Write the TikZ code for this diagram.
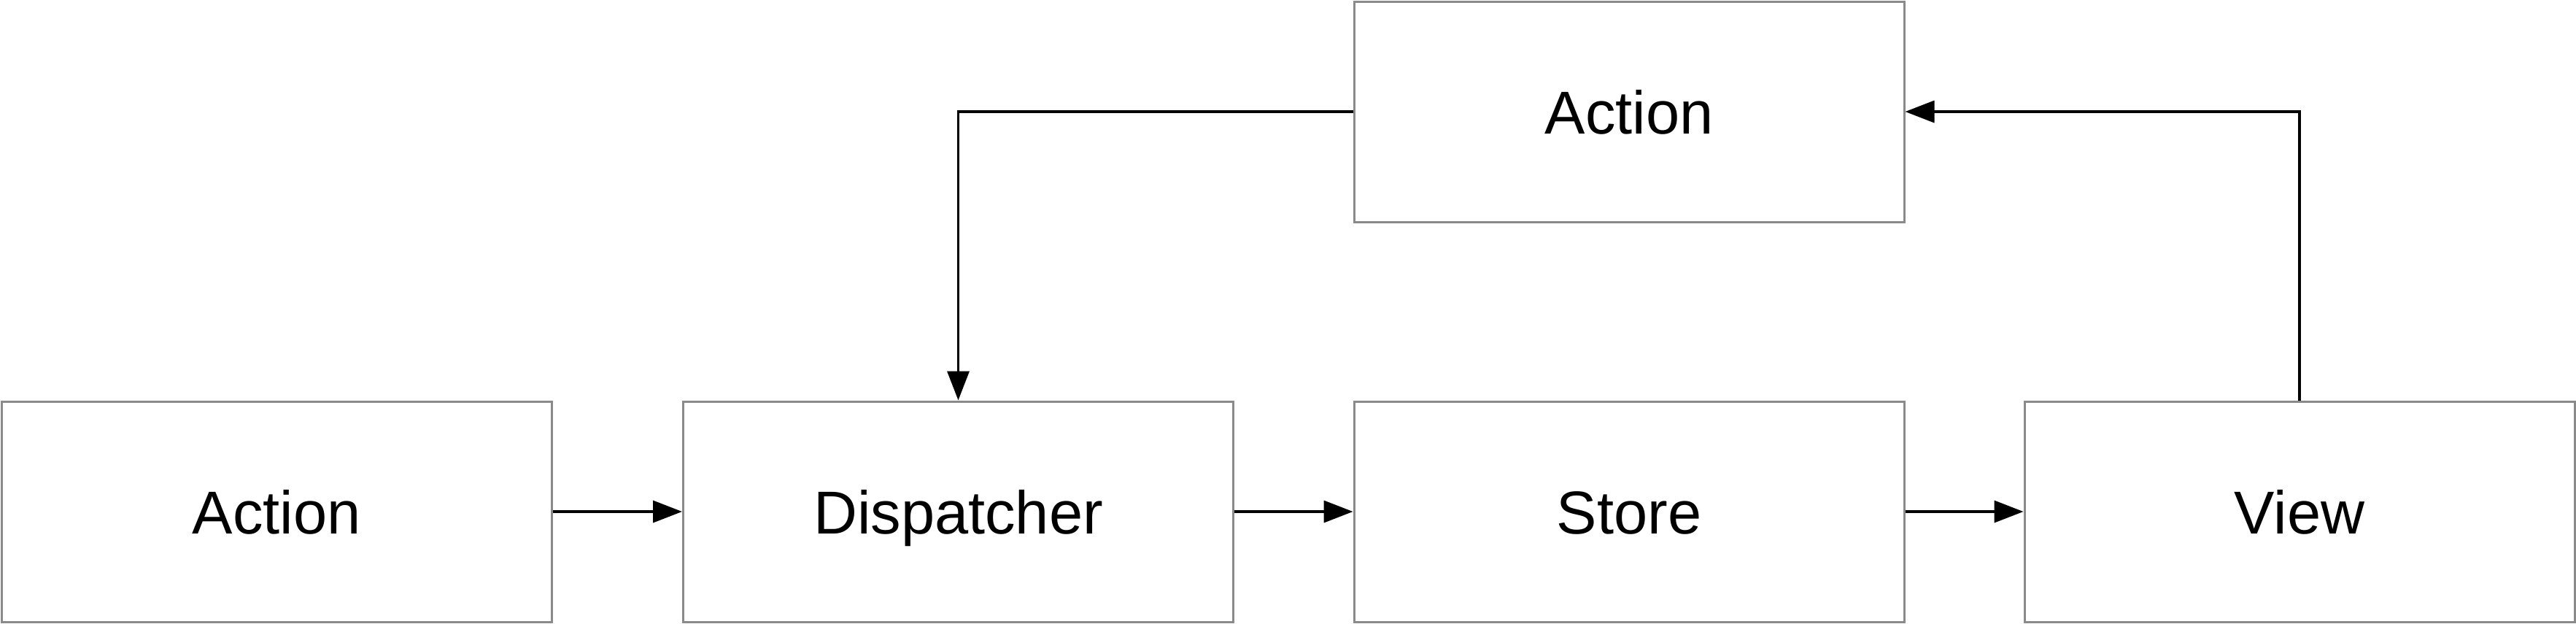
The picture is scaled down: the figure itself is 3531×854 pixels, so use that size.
\documentclass[tikz,border=0pt]{standalone}
\usepackage{fontspec}
\setmainfont{Liberation Sans}
\usetikzlibrary{arrows.meta}
\definecolor{boxgray}{HTML}{8A8A8A}
\begin{document}
\begin{tikzpicture}[x=1pt,y=-1pt,
  box/.style={draw=boxgray, line width=3pt, minimum width=754pt, minimum height=302pt, inner sep=0pt, text height=76pt, text depth=16pt, font=\fontsize{83}{90}\selectfont},
  conn/.style={line width=3.5pt, -{Triangle[length=40pt,width=30pt]}}]
\useasboundingbox (0,0) rectangle (3531,854);
\node[box] (a1) at (379,701) {Action};
\node[box] (disp) at (1313.5,701) {Dispatcher};
\node[box] (store) at (2233,701) {Store};
\node[box] (view) at (3152,701) {View};
\node[box] (top) at (2233,153) {Action};
\draw[conn] (a1.east) -- (disp.west);
\draw[conn] (disp.east) -- (store.west);
\draw[conn] (store.east) -- (view.west);
\draw[conn] (view.north) |- (top.east);
\draw[conn] (top.west) -| (disp.north);
\end{tikzpicture}
\end{document}
